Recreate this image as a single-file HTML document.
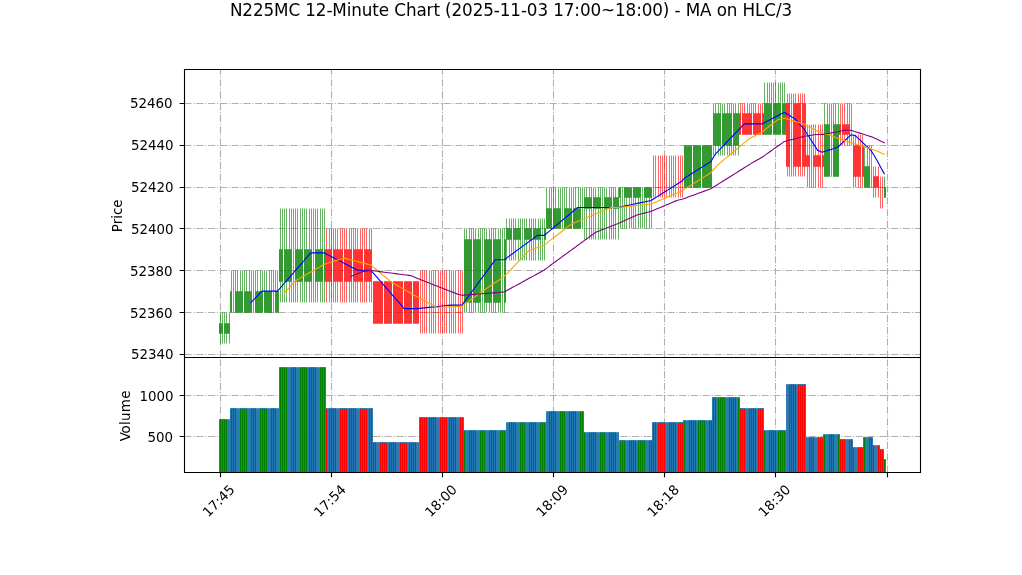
<!DOCTYPE html>
<html lang="en"><head><meta charset="utf-8"><title>N225MC 12-Minute Chart</title>
<style>html,body{margin:0;padding:0;background:#fff;overflow:hidden}body{width:1022px;height:575px}</style></head>
<body>
<svg width="1022" height="575" viewBox="0 0 1022 575" style="display:block;font-family:'DejaVu Sans','Liberation Sans',sans-serif">
<rect width="1022" height="575" fill="#fff"/>
<defs><clipPath id="c1"><rect x="184" y="69" width="736" height="288"/></clipPath><clipPath id="c2"><rect x="184" y="357" width="736" height="115"/></clipPath></defs>
<g clip-path="url(#c1)">
<path d="M220.5 357.5V69.5M331.5 357.5V69.5M442.5 357.5V69.5M553.5 357.5V69.5M664.5 357.5V69.5M775.5 357.5V69.5M887.5 357.5V69.5M184.5 354.5H920.5M184.5 312.5H920.5M184.5 270.5H920.5M184.5 228.5H920.5M184.5 187.5H920.5M184.5 145.5H920.5M184.5 103.5H920.5" fill="none" stroke="#b0b0b0" stroke-width="1.111" stroke-dasharray="7.111 1.778 1.111 1.778"/>
<path d="M220.5 312.5V323.5M220.5 333.5V343.5M222.5 312.5V323.5M222.5 333.5V343.5M224.5 312.5V323.5M224.5 333.5V343.5M226.5 312.5V323.5M226.5 333.5V343.5M229.5 312.5V323.5M229.5 333.5V343.5M231.5 270.5V291.5M233.5 270.5V291.5M235.5 270.5V291.5M237.5 270.5V291.5M240.5 270.5V291.5M242.5 270.5V291.5M244.5 270.5V291.5M246.5 270.5V291.5M249.5 270.5V291.5M251.5 270.5V291.5M253.5 270.5V291.5M255.5 270.5V291.5M257.5 270.5V291.5M260.5 270.5V291.5M262.5 270.5V291.5M264.5 270.5V291.5M266.5 270.5V291.5M269.5 270.5V291.5M271.5 270.5V291.5M273.5 270.5V291.5M275.5 270.5V291.5M277.5 270.5V291.5M280.5 208.5V249.5M280.5 281.5V302.5M282.5 208.5V249.5M282.5 281.5V302.5M284.5 208.5V249.5M284.5 281.5V302.5M286.5 208.5V249.5M286.5 281.5V302.5M289.5 208.5V249.5M289.5 281.5V302.5M291.5 208.5V249.5M291.5 281.5V302.5M293.5 208.5V249.5M293.5 281.5V302.5M295.5 208.5V249.5M295.5 281.5V302.5M297.5 208.5V249.5M297.5 281.5V302.5M300.5 208.5V249.5M300.5 281.5V302.5M302.5 208.5V249.5M302.5 281.5V302.5M304.5 208.5V249.5M304.5 281.5V302.5M306.5 208.5V249.5M306.5 281.5V302.5M309.5 208.5V249.5M309.5 281.5V302.5M311.5 208.5V249.5M311.5 281.5V302.5M313.5 208.5V249.5M313.5 281.5V302.5M315.5 208.5V249.5M315.5 281.5V302.5M317.5 208.5V249.5M317.5 281.5V302.5M320.5 208.5V249.5M320.5 281.5V302.5M322.5 208.5V249.5M322.5 281.5V302.5M324.5 208.5V249.5M324.5 281.5V302.5M464.5 228.5V239.5M464.5 302.5V312.5M466.5 228.5V239.5M466.5 302.5V312.5M469.5 228.5V239.5M469.5 302.5V312.5M471.5 228.5V239.5M471.5 302.5V312.5M473.5 228.5V239.5M473.5 302.5V312.5M475.5 228.5V239.5M475.5 302.5V312.5M478.5 228.5V239.5M478.5 302.5V312.5M480.5 228.5V239.5M480.5 302.5V312.5M482.5 228.5V239.5M482.5 302.5V312.5M484.5 228.5V239.5M484.5 302.5V312.5M486.5 228.5V239.5M486.5 302.5V312.5M489.5 228.5V239.5M489.5 302.5V312.5M491.5 228.5V239.5M491.5 302.5V312.5M493.5 228.5V239.5M493.5 302.5V312.5M495.5 228.5V239.5M495.5 302.5V312.5M498.5 228.5V239.5M498.5 302.5V312.5M500.5 228.5V239.5M500.5 302.5V312.5M502.5 228.5V239.5M502.5 302.5V312.5M504.5 228.5V239.5M504.5 302.5V312.5M506.5 218.5V228.5M506.5 239.5V260.5M509.5 218.5V228.5M509.5 239.5V260.5M511.5 218.5V228.5M511.5 239.5V260.5M513.5 218.5V228.5M513.5 239.5V260.5M515.5 218.5V228.5M515.5 239.5V260.5M518.5 218.5V228.5M518.5 239.5V260.5M520.5 218.5V228.5M520.5 239.5V260.5M522.5 218.5V228.5M522.5 239.5V260.5M524.5 218.5V228.5M524.5 239.5V260.5M526.5 218.5V228.5M526.5 239.5V260.5M529.5 218.5V228.5M529.5 239.5V260.5M531.5 218.5V228.5M531.5 239.5V260.5M533.5 218.5V228.5M533.5 239.5V260.5M535.5 218.5V228.5M535.5 239.5V260.5M538.5 218.5V228.5M538.5 239.5V260.5M540.5 218.5V228.5M540.5 239.5V260.5M542.5 218.5V228.5M542.5 239.5V260.5M544.5 218.5V228.5M544.5 239.5V260.5M546.5 187.5V208.5M549.5 187.5V208.5M551.5 187.5V208.5M553.5 187.5V208.5M555.5 187.5V208.5M558.5 187.5V208.5M560.5 187.5V208.5M562.5 187.5V208.5M564.5 187.5V208.5M566.5 187.5V208.5M569.5 187.5V208.5M571.5 187.5V208.5M573.5 187.5V208.5M575.5 187.5V208.5M578.5 187.5V208.5M580.5 187.5V208.5M582.5 187.5V208.5M584.5 187.5V197.5M584.5 208.5V239.5M586.5 187.5V197.5M586.5 208.5V239.5M589.5 187.5V197.5M589.5 208.5V239.5M591.5 187.5V197.5M591.5 208.5V239.5M593.5 187.5V197.5M593.5 208.5V239.5M595.5 187.5V197.5M595.5 208.5V239.5M598.5 187.5V197.5M598.5 208.5V239.5M600.5 187.5V197.5M600.5 208.5V239.5M602.5 187.5V197.5M602.5 208.5V239.5M604.5 187.5V197.5M604.5 208.5V239.5M606.5 187.5V197.5M606.5 208.5V239.5M609.5 187.5V197.5M609.5 208.5V239.5M611.5 187.5V197.5M611.5 208.5V239.5M613.5 187.5V197.5M613.5 208.5V239.5M615.5 187.5V197.5M615.5 208.5V239.5M618.5 187.5V197.5M618.5 208.5V239.5M620.5 197.5V228.5M622.5 197.5V228.5M624.5 197.5V228.5M626.5 197.5V228.5M629.5 197.5V228.5M631.5 197.5V228.5M633.5 197.5V228.5M635.5 197.5V228.5M638.5 197.5V228.5M640.5 197.5V228.5M642.5 197.5V228.5M644.5 197.5V228.5M646.5 197.5V228.5M649.5 197.5V228.5M651.5 197.5V228.5M713.5 103.5V113.5M713.5 145.5V155.5M715.5 103.5V113.5M715.5 145.5V155.5M718.5 103.5V113.5M718.5 145.5V155.5M720.5 103.5V113.5M720.5 145.5V155.5M722.5 103.5V113.5M722.5 145.5V155.5M724.5 103.5V113.5M724.5 145.5V155.5M727.5 103.5V113.5M727.5 145.5V155.5M729.5 103.5V113.5M729.5 145.5V155.5M731.5 103.5V113.5M731.5 145.5V155.5M733.5 103.5V113.5M733.5 145.5V155.5M735.5 103.5V113.5M735.5 145.5V155.5M738.5 103.5V113.5M738.5 145.5V155.5M764.5 82.5V103.5M767.5 82.5V103.5M769.5 82.5V103.5M771.5 82.5V103.5M773.5 82.5V103.5M775.5 82.5V103.5M778.5 82.5V103.5M780.5 82.5V103.5M782.5 82.5V103.5M784.5 82.5V103.5M824.5 103.5V124.5M827.5 103.5V124.5M829.5 103.5V124.5M831.5 103.5V124.5M833.5 103.5V124.5M835.5 103.5V124.5M838.5 103.5V124.5M864.5 145.5V166.5M867.5 145.5V166.5M869.5 145.5V166.5M871.5 145.5V166.5M884.5 176.5V187.5" fill="none" stroke="#008000" stroke-width="0.604"/>
<path d="M326.5 228.5V249.5M326.5 281.5V302.5M329.5 228.5V249.5M329.5 281.5V302.5M331.5 228.5V249.5M331.5 281.5V302.5M333.5 228.5V249.5M333.5 281.5V302.5M335.5 228.5V249.5M335.5 281.5V302.5M337.5 228.5V249.5M337.5 281.5V302.5M340.5 228.5V249.5M340.5 281.5V302.5M342.5 228.5V249.5M342.5 281.5V302.5M344.5 228.5V249.5M344.5 281.5V302.5M346.5 228.5V249.5M346.5 281.5V302.5M349.5 228.5V249.5M349.5 281.5V302.5M351.5 228.5V249.5M351.5 281.5V302.5M353.5 228.5V249.5M353.5 281.5V302.5M355.5 228.5V249.5M355.5 281.5V302.5M357.5 228.5V249.5M357.5 281.5V302.5M360.5 228.5V249.5M360.5 281.5V302.5M362.5 228.5V249.5M362.5 281.5V302.5M364.5 228.5V249.5M364.5 281.5V302.5M366.5 228.5V249.5M366.5 281.5V302.5M369.5 228.5V249.5M369.5 281.5V302.5M371.5 228.5V249.5M371.5 281.5V302.5M420.5 270.5V312.5M420.5 312.5V333.5M422.5 270.5V312.5M422.5 312.5V333.5M424.5 270.5V312.5M424.5 312.5V333.5M426.5 270.5V312.5M426.5 312.5V333.5M429.5 270.5V312.5M429.5 312.5V333.5M431.5 270.5V312.5M431.5 312.5V333.5M433.5 270.5V312.5M433.5 312.5V333.5M435.5 270.5V312.5M435.5 312.5V333.5M438.5 270.5V312.5M438.5 312.5V333.5M440.5 270.5V312.5M440.5 312.5V333.5M442.5 270.5V312.5M442.5 312.5V333.5M444.5 270.5V312.5M444.5 312.5V333.5M446.5 270.5V312.5M446.5 312.5V333.5M449.5 270.5V312.5M449.5 312.5V333.5M451.5 270.5V312.5M451.5 312.5V333.5M453.5 270.5V312.5M453.5 312.5V333.5M455.5 270.5V312.5M455.5 312.5V333.5M458.5 270.5V312.5M458.5 312.5V333.5M460.5 270.5V312.5M460.5 312.5V333.5M462.5 270.5V312.5M462.5 312.5V333.5M653.5 155.5V187.5M653.5 187.5V197.5M655.5 155.5V187.5M655.5 187.5V197.5M658.5 155.5V187.5M658.5 187.5V197.5M660.5 155.5V187.5M660.5 187.5V197.5M662.5 155.5V187.5M662.5 187.5V197.5M664.5 155.5V187.5M664.5 187.5V197.5M666.5 155.5V187.5M666.5 187.5V197.5M669.5 155.5V187.5M669.5 187.5V197.5M671.5 155.5V187.5M671.5 187.5V197.5M673.5 155.5V187.5M673.5 187.5V197.5M675.5 155.5V187.5M675.5 187.5V197.5M678.5 155.5V187.5M678.5 187.5V197.5M680.5 155.5V187.5M680.5 187.5V197.5M682.5 155.5V187.5M682.5 187.5V197.5M740.5 103.5V113.5M742.5 103.5V113.5M744.5 103.5V113.5M747.5 103.5V113.5M749.5 103.5V113.5M751.5 103.5V113.5M753.5 103.5V113.5M755.5 103.5V113.5M758.5 103.5V113.5M760.5 103.5V113.5M762.5 103.5V113.5M787.5 93.5V103.5M787.5 166.5V176.5M789.5 93.5V103.5M789.5 166.5V176.5M791.5 93.5V103.5M791.5 166.5V176.5M793.5 93.5V103.5M793.5 166.5V176.5M795.5 93.5V103.5M795.5 166.5V176.5M798.5 93.5V103.5M798.5 166.5V176.5M800.5 93.5V103.5M800.5 166.5V176.5M802.5 93.5V103.5M802.5 166.5V176.5M804.5 93.5V103.5M804.5 166.5V176.5M807.5 124.5V155.5M807.5 166.5V187.5M809.5 124.5V155.5M809.5 166.5V187.5M811.5 124.5V155.5M811.5 166.5V187.5M813.5 124.5V155.5M813.5 166.5V187.5M815.5 124.5V155.5M815.5 166.5V187.5M818.5 124.5V155.5M818.5 166.5V187.5M820.5 124.5V155.5M820.5 166.5V187.5M822.5 124.5V155.5M822.5 166.5V187.5M840.5 103.5V124.5M840.5 134.5V145.5M842.5 103.5V124.5M842.5 134.5V145.5M844.5 103.5V124.5M844.5 134.5V145.5M847.5 103.5V124.5M847.5 134.5V145.5M849.5 103.5V124.5M849.5 134.5V145.5M851.5 103.5V124.5M851.5 134.5V145.5M853.5 134.5V145.5M853.5 176.5V187.5M855.5 134.5V145.5M855.5 176.5V187.5M858.5 134.5V145.5M858.5 176.5V187.5M860.5 134.5V145.5M860.5 176.5V187.5M862.5 134.5V145.5M862.5 176.5V187.5M873.5 166.5V176.5M873.5 187.5V197.5M875.5 166.5V176.5M875.5 187.5V197.5M878.5 166.5V176.5M878.5 187.5V197.5M880.5 176.5V187.5M880.5 187.5V208.5M882.5 176.5V187.5M882.5 187.5V208.5" fill="none" stroke="#ff0000" stroke-width="0.604"/>
<path d="M219.5 323.5H220.5V333.5H219.5ZM221.5 323.5H222.5V333.5H221.5ZM224.5 323.5H225.5V333.5H224.5ZM226.5 323.5H227.5V333.5H226.5ZM228.5 323.5H229.5V333.5H228.5ZM230.5 291.5H231.5V312.5H230.5ZM235.5 291.5H236.5V312.5H235.5ZM237.5 291.5H238.5V312.5H237.5ZM239.5 291.5H240.5V312.5H239.5ZM241.5 291.5H242.5V312.5H241.5ZM244.5 291.5H245.5V312.5H244.5ZM246.5 291.5H247.5V312.5H246.5ZM248.5 291.5H249.5V312.5H248.5ZM250.5 291.5H251.5V312.5H250.5ZM255.5 291.5H256.5V312.5H255.5ZM257.5 291.5H258.5V312.5H257.5ZM259.5 291.5H260.5V312.5H259.5ZM261.5 291.5H262.5V312.5H261.5ZM264.5 291.5H265.5V312.5H264.5ZM266.5 291.5H267.5V312.5H266.5ZM268.5 291.5H269.5V312.5H268.5ZM270.5 291.5H271.5V312.5H270.5ZM275.5 291.5H276.5V312.5H275.5ZM277.5 291.5H278.5V312.5H277.5ZM279.5 249.5H280.5V281.5H279.5ZM281.5 249.5H282.5V281.5H281.5ZM284.5 249.5H285.5V281.5H284.5ZM286.5 249.5H287.5V281.5H286.5ZM288.5 249.5H289.5V281.5H288.5ZM290.5 249.5H291.5V281.5H290.5ZM295.5 249.5H296.5V281.5H295.5ZM297.5 249.5H298.5V281.5H297.5ZM299.5 249.5H300.5V281.5H299.5ZM301.5 249.5H302.5V281.5H301.5ZM304.5 249.5H305.5V281.5H304.5ZM306.5 249.5H307.5V281.5H306.5ZM308.5 249.5H309.5V281.5H308.5ZM310.5 249.5H311.5V281.5H310.5ZM315.5 249.5H316.5V281.5H315.5ZM317.5 249.5H318.5V281.5H317.5ZM319.5 249.5H320.5V281.5H319.5ZM321.5 249.5H322.5V281.5H321.5ZM324.5 249.5H325.5V281.5H324.5ZM464.5 239.5H465.5V302.5H464.5ZM466.5 239.5H467.5V302.5H466.5ZM468.5 239.5H469.5V302.5H468.5ZM470.5 239.5H471.5V302.5H470.5ZM473.5 239.5H474.5V302.5H473.5ZM475.5 239.5H476.5V302.5H475.5ZM477.5 239.5H478.5V302.5H477.5ZM479.5 239.5H480.5V302.5H479.5ZM484.5 239.5H485.5V302.5H484.5ZM486.5 239.5H487.5V302.5H486.5ZM488.5 239.5H489.5V302.5H488.5ZM490.5 239.5H491.5V302.5H490.5ZM493.5 239.5H494.5V302.5H493.5ZM495.5 239.5H496.5V302.5H495.5ZM497.5 239.5H498.5V302.5H497.5ZM499.5 239.5H500.5V302.5H499.5ZM504.5 239.5H505.5V302.5H504.5ZM506.5 228.5H507.5V239.5H506.5ZM508.5 228.5H509.5V239.5H508.5ZM510.5 228.5H511.5V239.5H510.5ZM513.5 228.5H514.5V239.5H513.5ZM515.5 228.5H516.5V239.5H515.5ZM517.5 228.5H518.5V239.5H517.5ZM519.5 228.5H520.5V239.5H519.5ZM524.5 228.5H525.5V239.5H524.5ZM526.5 228.5H527.5V239.5H526.5ZM528.5 228.5H529.5V239.5H528.5ZM530.5 228.5H531.5V239.5H530.5ZM533.5 228.5H534.5V239.5H533.5ZM535.5 228.5H536.5V239.5H535.5ZM537.5 228.5H538.5V239.5H537.5ZM539.5 228.5H540.5V239.5H539.5ZM544.5 228.5H545.5V239.5H544.5ZM546.5 208.5H547.5V228.5H546.5ZM548.5 208.5H549.5V228.5H548.5ZM550.5 208.5H551.5V228.5H550.5ZM553.5 208.5H554.5V228.5H553.5ZM555.5 208.5H556.5V228.5H555.5ZM557.5 208.5H558.5V228.5H557.5ZM559.5 208.5H560.5V228.5H559.5ZM564.5 208.5H565.5V228.5H564.5ZM566.5 208.5H567.5V228.5H566.5ZM568.5 208.5H569.5V228.5H568.5ZM570.5 208.5H571.5V228.5H570.5ZM573.5 208.5H574.5V228.5H573.5ZM575.5 208.5H576.5V228.5H575.5ZM577.5 208.5H578.5V228.5H577.5ZM579.5 208.5H580.5V228.5H579.5ZM584.5 197.5H585.5V208.5H584.5ZM586.5 197.5H587.5V208.5H586.5ZM588.5 197.5H589.5V208.5H588.5ZM590.5 197.5H591.5V208.5H590.5ZM593.5 197.5H594.5V208.5H593.5ZM595.5 197.5H596.5V208.5H595.5ZM597.5 197.5H598.5V208.5H597.5ZM599.5 197.5H600.5V208.5H599.5ZM604.5 197.5H605.5V208.5H604.5ZM606.5 197.5H607.5V208.5H606.5ZM608.5 197.5H609.5V208.5H608.5ZM610.5 197.5H611.5V208.5H610.5ZM613.5 197.5H614.5V208.5H613.5ZM615.5 197.5H616.5V208.5H615.5ZM617.5 197.5H618.5V208.5H617.5ZM619.5 187.5H620.5V197.5H619.5ZM624.5 187.5H625.5V197.5H624.5ZM626.5 187.5H627.5V197.5H626.5ZM628.5 187.5H629.5V197.5H628.5ZM630.5 187.5H631.5V197.5H630.5ZM633.5 187.5H634.5V197.5H633.5ZM635.5 187.5H636.5V197.5H635.5ZM637.5 187.5H638.5V197.5H637.5ZM639.5 187.5H640.5V197.5H639.5ZM644.5 187.5H645.5V197.5H644.5ZM646.5 187.5H647.5V197.5H646.5ZM648.5 187.5H649.5V197.5H648.5ZM650.5 187.5H651.5V197.5H650.5ZM684.5 145.5H685.5V187.5H684.5ZM686.5 145.5H687.5V187.5H686.5ZM688.5 145.5H689.5V187.5H688.5ZM690.5 145.5H691.5V187.5H690.5ZM693.5 145.5H694.5V187.5H693.5ZM695.5 145.5H696.5V187.5H695.5ZM697.5 145.5H698.5V187.5H697.5ZM699.5 145.5H700.5V187.5H699.5ZM702.5 145.5H703.5V187.5H702.5ZM704.5 145.5H705.5V187.5H704.5ZM706.5 145.5H707.5V187.5H706.5ZM708.5 145.5H709.5V187.5H708.5ZM710.5 145.5H711.5V187.5H710.5ZM713.5 113.5H714.5V145.5H713.5ZM715.5 113.5H716.5V145.5H715.5ZM717.5 113.5H718.5V145.5H717.5ZM719.5 113.5H720.5V145.5H719.5ZM722.5 113.5H723.5V145.5H722.5ZM724.5 113.5H725.5V145.5H724.5ZM726.5 113.5H727.5V145.5H726.5ZM728.5 113.5H729.5V145.5H728.5ZM730.5 113.5H731.5V145.5H730.5ZM733.5 113.5H734.5V145.5H733.5ZM735.5 113.5H736.5V145.5H735.5ZM737.5 113.5H738.5V145.5H737.5ZM764.5 103.5H765.5V134.5H764.5ZM766.5 103.5H767.5V134.5H766.5ZM768.5 103.5H769.5V134.5H768.5ZM770.5 103.5H771.5V134.5H770.5ZM773.5 103.5H774.5V134.5H773.5ZM775.5 103.5H776.5V134.5H775.5ZM777.5 103.5H778.5V134.5H777.5ZM779.5 103.5H780.5V134.5H779.5ZM782.5 103.5H783.5V134.5H782.5ZM784.5 103.5H785.5V134.5H784.5ZM824.5 124.5H825.5V176.5H824.5ZM826.5 124.5H827.5V176.5H826.5ZM828.5 124.5H829.5V176.5H828.5ZM833.5 124.5H834.5V176.5H833.5ZM835.5 124.5H836.5V176.5H835.5ZM837.5 124.5H838.5V176.5H837.5ZM864.5 166.5H865.5V187.5H864.5ZM866.5 166.5H867.5V187.5H866.5ZM868.5 166.5H869.5V187.5H868.5ZM884.5 187.5H885.5V197.5H884.5Z" fill="#008000" stroke="#008000" stroke-width="0.604" stroke-linejoin="miter"/>
<path d="M326.5 249.5H327.5V281.5H326.5ZM328.5 249.5H329.5V281.5H328.5ZM330.5 249.5H331.5V281.5H330.5ZM333.5 249.5H334.5V281.5H333.5ZM335.5 249.5H336.5V281.5H335.5ZM337.5 249.5H338.5V281.5H337.5ZM339.5 249.5H340.5V281.5H339.5ZM341.5 249.5H342.5V281.5H341.5ZM344.5 249.5H345.5V281.5H344.5ZM346.5 249.5H347.5V281.5H346.5ZM348.5 249.5H349.5V281.5H348.5ZM350.5 249.5H351.5V281.5H350.5ZM353.5 249.5H354.5V281.5H353.5ZM355.5 249.5H356.5V281.5H355.5ZM357.5 249.5H358.5V281.5H357.5ZM359.5 249.5H360.5V281.5H359.5ZM361.5 249.5H362.5V281.5H361.5ZM364.5 249.5H365.5V281.5H364.5ZM366.5 249.5H367.5V281.5H366.5ZM368.5 249.5H369.5V281.5H368.5ZM370.5 249.5H371.5V281.5H370.5ZM373.5 281.5H374.5V323.5H373.5ZM375.5 281.5H376.5V323.5H375.5ZM377.5 281.5H378.5V323.5H377.5ZM379.5 281.5H380.5V323.5H379.5ZM381.5 281.5H382.5V323.5H381.5ZM384.5 281.5H385.5V323.5H384.5ZM386.5 281.5H387.5V323.5H386.5ZM388.5 281.5H389.5V323.5H388.5ZM390.5 281.5H391.5V323.5H390.5ZM393.5 281.5H394.5V323.5H393.5ZM395.5 281.5H396.5V323.5H395.5ZM397.5 281.5H398.5V323.5H397.5ZM399.5 281.5H400.5V323.5H399.5ZM401.5 281.5H402.5V323.5H401.5ZM404.5 281.5H405.5V323.5H404.5ZM406.5 281.5H407.5V323.5H406.5ZM408.5 281.5H409.5V323.5H408.5ZM410.5 281.5H411.5V323.5H410.5ZM413.5 281.5H414.5V323.5H413.5ZM415.5 281.5H416.5V323.5H415.5ZM417.5 281.5H418.5V323.5H417.5ZM739.5 113.5H740.5V134.5H739.5ZM742.5 113.5H743.5V134.5H742.5ZM744.5 113.5H745.5V134.5H744.5ZM746.5 113.5H747.5V134.5H746.5ZM748.5 113.5H749.5V134.5H748.5ZM750.5 113.5H751.5V134.5H750.5ZM753.5 113.5H754.5V134.5H753.5ZM755.5 113.5H756.5V134.5H755.5ZM757.5 113.5H758.5V134.5H757.5ZM759.5 113.5H760.5V134.5H759.5ZM762.5 113.5H763.5V134.5H762.5ZM786.5 103.5H787.5V166.5H786.5ZM788.5 103.5H789.5V166.5H788.5ZM793.5 103.5H794.5V166.5H793.5ZM795.5 103.5H796.5V166.5H795.5ZM797.5 103.5H798.5V166.5H797.5ZM799.5 103.5H800.5V166.5H799.5ZM802.5 103.5H803.5V166.5H802.5ZM804.5 103.5H805.5V166.5H804.5ZM806.5 155.5H807.5V166.5H806.5ZM808.5 155.5H809.5V166.5H808.5ZM813.5 155.5H814.5V166.5H813.5ZM815.5 155.5H816.5V166.5H815.5ZM817.5 155.5H818.5V166.5H817.5ZM819.5 155.5H820.5V166.5H819.5ZM822.5 155.5H823.5V166.5H822.5ZM839.5 124.5H840.5V134.5H839.5ZM842.5 124.5H843.5V134.5H842.5ZM844.5 124.5H845.5V134.5H844.5ZM846.5 124.5H847.5V134.5H846.5ZM848.5 124.5H849.5V134.5H848.5ZM853.5 145.5H854.5V176.5H853.5ZM855.5 145.5H856.5V176.5H855.5ZM857.5 145.5H858.5V176.5H857.5ZM859.5 145.5H860.5V176.5H859.5ZM862.5 145.5H863.5V176.5H862.5ZM873.5 176.5H874.5V187.5H873.5ZM875.5 176.5H876.5V187.5H875.5ZM877.5 176.5H878.5V187.5H877.5Z" fill="#ff0000" stroke="#ff0000" stroke-width="0.604" stroke-linejoin="miter"/>
<path d="M233.198 291.198H233.802V312.802H233.198ZM253.198 291.198H253.802V312.802H253.198ZM273.198 291.198H273.802V312.802H273.198ZM293.198 249.198H293.802V281.802H293.198ZM313.198 249.198H313.802V281.802H313.198ZM482.198 239.198H482.802V302.802H482.198ZM502.198 239.198H502.802V302.802H502.198ZM522.198 228.198H522.802V239.802H522.198ZM542.198 228.198H542.802V239.802H542.198ZM562.198 208.198H562.802V228.802H562.198ZM582.198 208.198H582.802V228.802H582.198ZM602.198 197.198H602.802V208.802H602.198ZM622.198 187.198H622.802V197.802H622.198ZM642.198 187.198H642.802V197.802H642.198ZM831.198 124.198H831.802V176.802H831.198ZM871.198 166.198H871.802V187.802H871.198Z" fill="#008000" stroke="none"/>
<path d="M419.198 312.198H420.802V312.802H419.198ZM421.198 312.198H422.802V312.802H421.198ZM424.198 312.198H425.802V312.802H424.198ZM426.198 312.198H427.802V312.802H426.198ZM428.198 312.198H429.802V312.802H428.198ZM430.198 312.198H431.802V312.802H430.198ZM433.198 312.198H434.802V312.802H433.198ZM435.198 312.198H436.802V312.802H435.198ZM437.198 312.198H438.802V312.802H437.198ZM439.198 312.198H440.802V312.802H439.198ZM442.198 312.198H442.802V312.802H442.198ZM444.198 312.198H445.802V312.802H444.198ZM446.198 312.198H447.802V312.802H446.198ZM448.198 312.198H449.802V312.802H448.198ZM450.198 312.198H451.802V312.802H450.198ZM453.198 312.198H454.802V312.802H453.198ZM455.198 312.198H456.802V312.802H455.198ZM457.198 312.198H458.802V312.802H457.198ZM459.198 312.198H460.802V312.802H459.198ZM462.198 312.198H462.802V312.802H462.198ZM653.198 187.198H654.802V187.802H653.198ZM655.198 187.198H656.802V187.802H655.198ZM657.198 187.198H658.802V187.802H657.198ZM659.198 187.198H660.802V187.802H659.198ZM662.198 187.198H662.802V187.802H662.198ZM664.198 187.198H665.802V187.802H664.198ZM666.198 187.198H667.802V187.802H666.198ZM668.198 187.198H669.802V187.802H668.198ZM670.198 187.198H671.802V187.802H670.198ZM673.198 187.198H674.802V187.802H673.198ZM675.198 187.198H676.802V187.802H675.198ZM677.198 187.198H678.802V187.802H677.198ZM679.198 187.198H680.802V187.802H679.198ZM682.198 187.198H683.802V187.802H682.198ZM791.198 103.198H791.802V166.802H791.198ZM811.198 155.198H811.802V166.802H811.198ZM851.198 124.198H851.802V134.802H851.198ZM879.198 187.198H880.802V187.802H879.198ZM882.198 187.198H883.802V187.802H882.198Z" fill="#ff0000" stroke="none"/>
<path d="M250.79 302.78L253.01 300.45L255.24 298.13L257.46 295.81L259.68 293.48L261.91 291.16L264.13 291.16L266.35 291.16L268.58 291.16L270.8 291.16L273.02 291.16L275.24 291.16L277.47 291.16L279.69 288.6L281.91 286.05L284.14 283.49L286.36 280.94L288.58 278.38L290.8 275.83L293.03 273.27L295.25 270.71L297.47 268.16L299.7 265.6L301.92 263.05L304.14 260.49L306.37 257.94L308.59 255.38L310.81 252.83L313.03 252.83L315.26 252.83L317.48 252.83L319.7 252.83L321.93 252.83L324.15 252.83L326.37 253.99L328.59 255.15L330.82 256.31L333.04 257.47L335.26 258.63L337.49 259.8L339.71 260.96L341.93 262.12L344.16 263.28L346.38 264.44L348.6 265.6L350.82 266.77L353.05 267.93L355.27 269.09L357.49 270.25L359.72 270.25L361.94 270.25L364.16 270.25L366.38 270.25L368.61 270.25L370.83 270.25L373.05 272.81L375.28 275.36L377.5 277.92L379.72 280.47L381.95 283.03L384.17 285.58L386.39 288.14L388.61 290.69L390.84 293.25L393.06 295.81L395.28 298.36L397.51 300.92L399.73 303.47L401.95 306.03L404.17 308.58L406.4 308.58L408.62 308.58L410.84 308.58L413.07 308.58L415.29 308.58L417.51 308.58L419.74 308.35L421.96 308.12L424.18 307.89L426.4 307.65L428.63 307.42L430.85 307.19L433.07 306.96L435.3 306.72L437.52 306.49L439.74 306.26L441.96 306.03L444.19 305.8L446.41 305.56L448.63 305.33L450.86 305.1L453.08 305.1L455.3 305.1L457.53 305.1L459.75 305.1L461.97 305.1L464.19 302.08L466.42 299.06L468.64 296.04L470.86 293.02L473.09 290L475.31 286.98L477.53 283.96L479.75 280.94L481.98 277.92L484.2 274.9L486.42 271.88L488.65 268.86L490.87 265.84L493.09 262.82L495.32 259.8L497.54 259.8L499.76 259.8L501.98 259.8L504.21 259.8L506.43 258.17L508.65 256.54L510.88 254.92L513.1 253.29L515.32 251.66L517.54 250.04L519.77 248.41L521.99 246.79L524.21 245.16L526.44 243.53L528.66 241.91L530.88 240.28L533.11 238.65L535.33 237.03L537.55 235.4L539.77 235.4L542 235.4L544.22 235.4L546.44 233.54L548.67 231.68L550.89 229.83L553.11 227.97L555.33 226.11L557.56 224.25L559.78 222.39L562 220.53L564.23 218.67L566.45 216.82L568.67 214.96L570.9 213.1L573.12 211.24L575.34 209.38L577.56 207.52L579.79 207.52L582.01 207.52L584.23 207.52L586.46 207.52L588.68 207.52L590.9 207.52L593.12 207.52L595.35 207.52L597.57 207.52L599.79 207.52L602.02 207.52L604.24 207.52L606.46 207.52L608.69 207.52L610.91 207.52L613.13 207.52L615.35 207.52L617.58 207.52L619.8 207.06L622.02 206.59L624.25 206.13L626.47 205.66L628.69 205.2L630.91 204.73L633.14 204.27L635.36 203.81L637.58 203.34L639.81 202.88L642.03 202.41L644.25 201.95L646.48 201.48L648.7 201.02L650.92 200.55L653.14 199.16L655.37 197.77L657.59 196.37L659.81 194.98L662.04 193.58L664.26 192.19L666.48 190.8L668.7 189.4L670.93 188.01L673.15 186.61L675.37 185.22L677.6 183.83L679.82 182.43L682.04 181.04L684.27 178.25L686.49 176.86L688.71 175.46L690.93 174.07L693.16 172.67L695.38 171.28L697.6 169.89L699.83 168.49L702.05 167.1L704.27 165.7L706.49 164.31L708.72 162.92L710.94 161.52L713.16 157.81L715.39 154.09L717.61 151.77L719.83 149.44L722.06 147.12L724.28 144.8L726.5 142.47L728.72 140.15L730.95 137.83L733.17 135.5L735.39 133.18L737.62 130.86L739.84 128.53L742.06 126.21L744.29 123.89L746.51 123.89L748.73 123.89L750.95 123.89L753.18 123.89L755.4 123.89L757.62 123.89L759.85 123.89L762.07 123.89L764.29 122.72L766.51 121.56L768.74 120.4L770.96 119.24L773.18 118.08L775.41 116.92L777.63 115.76L779.85 114.59L782.08 113.43L784.3 112.27L786.52 113.66L788.74 115.06L790.97 116.45L793.19 117.85L795.41 119.24L797.64 121.8L799.86 124.35L802.08 126.91L804.3 129.46L806.53 132.95L808.75 136.43L810.97 139.92L813.2 143.4L815.42 146.89L817.64 150.37L819.87 151.3L822.09 152.23L824.31 151.53L826.53 150.84L828.76 150.14L830.98 149.44L833.2 148.74L835.43 148.05L837.65 147.35L839.87 145.26L842.09 143.17L844.32 141.08L846.54 138.99L848.76 136.9L850.99 134.81L853.21 135.27L855.43 135.73L857.66 137.83L859.88 139.92L862.1 142.01L864.32 144.1L866.55 146.19L868.77 148.28L870.99 150.37L873.22 154.09L875.44 157.81L877.66 161.52L879.88 165.7L882.11 169.89L884.33 173.84" fill="none" stroke="#0000ff" stroke-width="1.099" stroke-linejoin="round" stroke-linecap="square"/>
<path d="M284.14 293.13L286.36 290.69L288.58 288.26L290.8 285.82L293.03 283.38L295.25 280.94L297.47 279.66L299.7 278.38L301.92 277.1L304.14 275.83L306.37 274.55L308.59 273.27L310.81 271.99L313.03 270.71L315.26 269.44L317.48 268.16L319.7 266.88L321.93 265.6L324.15 264.33L326.37 263.63L328.59 262.93L330.82 262.23L333.04 261.54L335.26 260.84L337.49 260.14L339.71 259.45L341.93 258.75L344.16 258.05L346.38 258.63L348.6 259.21L350.82 259.8L353.05 260.38L355.27 260.96L357.49 261.54L359.72 262.12L361.94 262.7L364.16 263.28L366.38 263.86L368.61 264.44L370.83 265.02L373.05 266.88L375.28 268.74L377.5 270.6L379.72 272.46L381.95 274.32L384.17 276.17L386.39 278.03L388.61 279.89L390.84 281.75L393.06 283.03L395.28 284.31L397.51 285.58L399.73 286.86L401.95 288.14L404.17 289.42L406.4 290.69L408.62 291.97L410.84 293.25L413.07 294.53L415.29 295.81L417.51 297.08L419.74 298.24L421.96 299.41L424.18 300.57L426.4 301.73L428.63 302.89L430.85 304.05L433.07 305.21L435.3 306.38L437.52 307.54L439.74 307.42L441.96 307.31L444.19 307.19L446.41 307.07L448.63 306.96L450.86 306.84L453.08 306.72L455.3 306.61L457.53 306.49L459.75 306.38L461.97 306.26L464.19 304.63L466.42 303.01L468.64 301.38L470.86 299.76L473.09 298.13L475.31 296.5L477.53 294.88L479.75 293.25L481.98 291.62L484.2 290L486.42 288.49L488.65 286.98L490.87 285.47L493.09 283.96L495.32 282.45L497.54 280.94L499.76 279.43L501.98 277.92L504.21 276.41L506.43 274.08L508.65 271.76L510.88 269.44L513.1 267.11L515.32 264.79L517.54 262.47L519.77 260.14L521.99 257.82L524.21 255.5L526.44 253.17L528.66 250.85L530.88 250.04L533.11 249.22L535.33 248.41L537.55 247.6L539.77 246.79L542 245.97L544.22 245.16L546.44 243.42L548.67 241.67L550.89 239.93L553.11 238.19L555.33 236.45L557.56 234.7L559.78 232.96L562 231.22L564.23 229.48L566.45 227.73L568.67 225.99L570.9 224.25L573.12 223.32L575.34 222.39L577.56 221.46L579.79 220.53L582.01 219.6L584.23 218.67L586.46 217.74L588.68 216.82L590.9 215.89L593.12 214.96L595.35 214.03L597.57 213.1L599.79 212.17L602.02 211.24L604.24 210.31L606.46 209.38L608.69 208.45L610.91 207.52L613.13 207.52L615.35 207.52L617.58 207.52L619.8 207.29L622.02 207.06L624.25 206.83L626.47 206.59L628.69 206.36L630.91 206.13L633.14 205.9L635.36 205.66L637.58 205.43L639.81 205.2L642.03 204.97L644.25 204.73L646.48 204.5L648.7 204.27L650.92 204.04L653.14 203.11L655.37 202.18L657.59 201.25L659.81 200.32L662.04 199.39L664.26 198.46L666.48 197.53L668.7 196.6L670.93 195.67L673.15 194.74L675.37 193.82L677.6 192.89L679.82 191.96L682.04 191.03L684.27 189.4L686.49 188.01L688.71 186.61L690.93 185.22L693.16 183.83L695.38 182.43L697.6 181.04L699.83 179.64L702.05 178.25L704.27 176.86L706.49 175.46L708.72 174.07L710.94 172.67L713.16 170.12L715.39 167.56L717.61 165.01L719.83 163.15L722.06 161.29L724.28 159.43L726.5 157.57L728.72 155.71L730.95 153.86L733.17 152L735.39 150.14L737.62 148.28L739.84 146.42L742.06 144.56L744.29 142.7L746.51 140.85L748.73 138.99L750.95 137.83L753.18 136.66L755.4 135.5L757.62 134.34L759.85 133.18L762.07 132.02L764.29 130.28L766.51 128.53L768.74 126.79L770.96 125.05L773.18 123.31L775.41 121.56L777.63 119.82L779.85 119.24L782.08 118.66L784.3 118.08L786.52 118.78L788.74 119.47L790.97 120.17L793.19 120.87L795.41 121.56L797.64 122.26L799.86 122.96L802.08 123.65L804.3 124.35L806.53 125.51L808.75 126.67L810.97 127.84L813.2 129L815.42 130.16L817.64 131.32L819.87 132.48L822.09 133.64L824.31 133.99L826.53 134.34L828.76 134.69L830.98 135.62L833.2 136.55L835.43 137.48L837.65 138.41L839.87 139.1L842.09 139.8L844.32 140.5L846.54 141.19L848.76 141.89L850.99 142.59L853.21 143.29L855.43 143.98L857.66 144.68L859.88 145.38L862.1 146.07L864.32 146.77L866.55 147.47L868.77 148.16L870.99 148.86L873.22 149.67L875.44 150.49L877.66 151.3L879.88 152.35L882.11 153.39L884.33 154.32" fill="none" stroke="#ffa500" stroke-width="1.099" stroke-linejoin="round" stroke-linecap="square"/>
<path d="M350.82 276.46L353.05 275.54L355.27 274.61L357.49 273.68L359.72 272.75L361.94 271.82L364.16 271.47L366.38 271.12L368.61 270.77L370.83 270.42L373.05 270.71L375.28 271.01L377.5 271.3L379.72 271.59L381.95 271.88L384.17 272.17L386.39 272.46L388.61 272.75L390.84 273.04L393.06 273.33L395.28 273.62L397.51 273.91L399.73 274.2L401.95 274.49L404.17 274.78L406.4 275.07L408.62 275.36L410.84 275.65L413.07 276.58L415.29 277.51L417.51 278.44L419.74 279.31L421.96 280.18L424.18 281.05L426.4 281.92L428.63 282.8L430.85 283.67L433.07 284.54L435.3 285.41L437.52 286.28L439.74 287.15L441.96 288.02L444.19 288.89L446.41 289.77L448.63 290.64L450.86 291.51L453.08 292.38L455.3 293.25L457.53 294.12L459.75 294.7L461.97 295.28L464.19 295.11L466.42 294.93L468.64 294.76L470.86 294.59L473.09 294.41L475.31 294.24L477.53 294.06L479.75 293.89L481.98 293.71L484.2 293.54L486.42 293.37L488.65 293.19L490.87 293.02L493.09 292.84L495.32 292.67L497.54 292.49L499.76 292.32L501.98 292.15L504.21 291.97L506.43 290.75L508.65 289.53L510.88 288.31L513.1 287.09L515.32 285.87L517.54 284.65L519.77 283.43L521.99 282.21L524.21 280.99L526.44 279.78L528.66 278.56L530.88 277.34L533.11 276.12L535.33 274.9L537.55 273.68L539.77 272.46L542 271.24L544.22 270.02L546.44 268.33L548.67 266.65L550.89 264.96L553.11 263.34L555.33 261.71L557.56 260.09L559.78 258.46L562 256.83L564.23 255.21L566.45 253.58L568.67 251.95L570.9 250.33L573.12 248.7L575.34 247.08L577.56 245.45L579.79 243.82L582.01 242.2L584.23 240.57L586.46 238.94L588.68 237.32L590.9 235.69L593.12 234.07L595.35 232.44L597.57 231.57L599.79 230.7L602.02 229.83L604.24 228.95L606.46 228.08L608.69 227.21L610.91 226.34L613.13 225.47L615.35 224.6L617.58 223.73L619.8 222.74L622.02 221.75L624.25 220.77L626.47 219.78L628.69 218.79L630.91 217.8L633.14 216.82L635.36 215.83L637.58 214.84L639.81 214.26L642.03 213.68L644.25 213.1L646.48 212.52L648.7 211.94L650.92 211.36L653.14 210.43L655.37 209.5L657.59 208.57L659.81 207.64L662.04 206.71L664.26 205.78L666.48 204.85L668.7 203.92L670.93 202.99L673.15 202.06L675.37 201.13L677.6 200.2L679.82 199.74L682.04 199.28L684.27 198.46L686.49 197.65L688.71 196.84L690.93 196.02L693.16 195.21L695.38 194.4L697.6 193.58L699.83 192.77L702.05 191.96L704.27 191.14L706.49 190.33L708.72 189.52L710.94 188.7L713.16 187.31L715.39 185.92L717.61 184.52L719.83 183.13L722.06 181.73L724.28 180.34L726.5 178.95L728.72 177.55L730.95 176.16L733.17 174.77L735.39 173.37L737.62 171.98L739.84 170.58L742.06 169.19L744.29 167.8L746.51 166.4L748.73 165.01L750.95 163.61L753.18 162.34L755.4 161.06L757.62 159.78L759.85 158.5L762.07 157.22L764.29 155.66L766.51 154.09L768.74 152.52L770.96 150.95L773.18 149.38L775.41 147.82L777.63 146.25L779.85 144.68L782.08 143.11L784.3 141.54L786.52 140.96L788.74 140.38L790.97 139.8L793.19 139.22L795.41 138.64L797.64 138.06L799.86 137.48L802.08 136.9L804.3 136.32L806.53 135.97L808.75 135.62L810.97 135.27L813.2 134.92L815.42 134.57L817.64 134.57L819.87 134.57L822.09 134.57L824.31 134.17L826.53 133.76L828.76 133.35L830.98 132.95L833.2 132.54L835.43 132.13L837.65 131.73L839.87 131.2L842.09 130.68L844.32 130.16L846.54 130.22L848.76 130.28L850.99 130.33L853.21 131.03L855.43 131.73L857.66 132.42L859.88 133.12L862.1 133.82L864.32 134.52L866.55 135.21L868.77 135.91L870.99 136.61L873.22 137.59L875.44 138.58L877.66 139.57L879.88 140.67L882.11 141.78L884.33 142.82" fill="none" stroke="#800080" stroke-width="1.099" stroke-linejoin="round" stroke-linecap="square"/>
</g>
<g clip-path="url(#c2)">
<path d="M220.5 472.5V357.5M331.5 472.5V357.5M442.5 472.5V357.5M553.5 472.5V357.5M664.5 472.5V357.5M775.5 472.5V357.5M887.5 472.5V357.5M184.5 436.5H920.5M184.5 395.5H920.5" fill="none" stroke="#b0b0b0" stroke-width="1.111" stroke-dasharray="7.111 1.778 1.111 1.778"/>
<path d="M219.5 419.5H221.5V480.5H219.5ZM221.5 419.5H223.5V480.5H221.5ZM223.5 419.5H225.5V480.5H223.5ZM225.5 419.5H227.5V480.5H225.5ZM228.5 419.5H229.5V480.5H228.5Z" fill="#008000" stroke="#1f77b4" stroke-width="0.903"/>
<path d="M230.5 408.5H232.5V480.5H230.5ZM232.5 408.5H234.5V480.5H232.5ZM234.5 408.5H236.5V480.5H234.5ZM237.5 408.5H238.5V480.5H237.5ZM239.5 408.5H241.5V480.5H239.5ZM241.5 408.5H243.5V480.5H241.5ZM243.5 408.5H245.5V480.5H243.5ZM245.5 408.5H247.5V480.5H245.5ZM248.5 408.5H249.5V480.5H248.5ZM250.5 408.5H252.5V480.5H250.5ZM252.5 408.5H254.5V480.5H252.5ZM254.5 408.5H256.5V480.5H254.5ZM257.5 408.5H258.5V480.5H257.5ZM259.5 408.5H261.5V480.5H259.5ZM261.5 408.5H263.5V480.5H261.5ZM263.5 408.5H265.5V480.5H263.5ZM265.5 408.5H267.5V480.5H265.5ZM268.5 408.5H269.5V480.5H268.5ZM270.5 408.5H272.5V480.5H270.5ZM272.5 408.5H274.5V480.5H272.5ZM274.5 408.5H276.5V480.5H274.5ZM277.5 408.5H278.5V480.5H277.5Z" fill="#008000" stroke="#1f77b4" stroke-width="0.903"/>
<path d="M279.5 367.5H281.5V480.5H279.5ZM281.5 367.5H283.5V480.5H281.5ZM283.5 367.5H285.5V480.5H283.5ZM285.5 367.5H287.5V480.5H285.5ZM288.5 367.5H289.5V480.5H288.5ZM290.5 367.5H292.5V480.5H290.5ZM292.5 367.5H294.5V480.5H292.5ZM294.5 367.5H296.5V480.5H294.5ZM297.5 367.5H298.5V480.5H297.5ZM299.5 367.5H301.5V480.5H299.5ZM301.5 367.5H303.5V480.5H301.5ZM303.5 367.5H305.5V480.5H303.5ZM305.5 367.5H307.5V480.5H305.5ZM308.5 367.5H310.5V480.5H308.5ZM310.5 367.5H312.5V480.5H310.5ZM312.5 367.5H314.5V480.5H312.5ZM314.5 367.5H316.5V480.5H314.5ZM317.5 367.5H318.5V480.5H317.5ZM319.5 367.5H321.5V480.5H319.5ZM321.5 367.5H323.5V480.5H321.5ZM323.5 367.5H325.5V480.5H323.5Z" fill="#008000" stroke="#1f77b4" stroke-width="0.903"/>
<path d="M325.5 408.5H327.5V480.5H325.5ZM328.5 408.5H330.5V480.5H328.5ZM330.5 408.5H332.5V480.5H330.5ZM332.5 408.5H334.5V480.5H332.5ZM334.5 408.5H336.5V480.5H334.5ZM337.5 408.5H338.5V480.5H337.5ZM339.5 408.5H341.5V480.5H339.5ZM341.5 408.5H343.5V480.5H341.5ZM343.5 408.5H345.5V480.5H343.5ZM345.5 408.5H347.5V480.5H345.5ZM348.5 408.5H350.5V480.5H348.5ZM350.5 408.5H352.5V480.5H350.5ZM352.5 408.5H354.5V480.5H352.5ZM354.5 408.5H356.5V480.5H354.5ZM357.5 408.5H358.5V480.5H357.5ZM359.5 408.5H361.5V480.5H359.5ZM361.5 408.5H363.5V480.5H361.5ZM363.5 408.5H365.5V480.5H363.5ZM365.5 408.5H367.5V480.5H365.5ZM368.5 408.5H370.5V480.5H368.5ZM370.5 408.5H372.5V480.5H370.5Z" fill="#ff0000" stroke="#1f77b4" stroke-width="0.903"/>
<path d="M372.5 442.5H374.5V480.5H372.5ZM374.5 442.5H376.5V480.5H374.5ZM377.5 442.5H378.5V480.5H377.5ZM379.5 442.5H381.5V480.5H379.5ZM381.5 442.5H383.5V480.5H381.5ZM383.5 442.5H385.5V480.5H383.5ZM385.5 442.5H387.5V480.5H385.5ZM388.5 442.5H390.5V480.5H388.5ZM390.5 442.5H392.5V480.5H390.5ZM392.5 442.5H394.5V480.5H392.5ZM394.5 442.5H396.5V480.5H394.5ZM397.5 442.5H398.5V480.5H397.5ZM399.5 442.5H401.5V480.5H399.5ZM401.5 442.5H403.5V480.5H401.5ZM403.5 442.5H405.5V480.5H403.5ZM405.5 442.5H407.5V480.5H405.5ZM408.5 442.5H410.5V480.5H408.5ZM410.5 442.5H412.5V480.5H410.5ZM412.5 442.5H414.5V480.5H412.5ZM414.5 442.5H416.5V480.5H414.5ZM417.5 442.5H418.5V480.5H417.5Z" fill="#ff0000" stroke="#1f77b4" stroke-width="0.903"/>
<path d="M419.5 417.5H421.5V480.5H419.5ZM421.5 417.5H423.5V480.5H421.5ZM423.5 417.5H425.5V480.5H423.5ZM425.5 417.5H427.5V480.5H425.5ZM428.5 417.5H430.5V480.5H428.5ZM430.5 417.5H432.5V480.5H430.5ZM432.5 417.5H434.5V480.5H432.5ZM434.5 417.5H436.5V480.5H434.5ZM437.5 417.5H438.5V480.5H437.5ZM439.5 417.5H441.5V480.5H439.5ZM441.5 417.5H443.5V480.5H441.5ZM443.5 417.5H445.5V480.5H443.5ZM445.5 417.5H447.5V480.5H445.5ZM448.5 417.5H450.5V480.5H448.5ZM450.5 417.5H452.5V480.5H450.5ZM452.5 417.5H454.5V480.5H452.5ZM454.5 417.5H456.5V480.5H454.5ZM457.5 417.5H458.5V480.5H457.5ZM459.5 417.5H461.5V480.5H459.5ZM461.5 417.5H463.5V480.5H461.5Z" fill="#ff0000" stroke="#1f77b4" stroke-width="0.903"/>
<path d="M463.5 430.5H465.5V480.5H463.5ZM466.5 430.5H467.5V480.5H466.5ZM468.5 430.5H470.5V480.5H468.5ZM470.5 430.5H472.5V480.5H470.5ZM472.5 430.5H474.5V480.5H472.5ZM474.5 430.5H476.5V480.5H474.5ZM477.5 430.5H478.5V480.5H477.5ZM479.5 430.5H481.5V480.5H479.5ZM481.5 430.5H483.5V480.5H481.5ZM483.5 430.5H485.5V480.5H483.5ZM486.5 430.5H487.5V480.5H486.5ZM488.5 430.5H490.5V480.5H488.5ZM490.5 430.5H492.5V480.5H490.5ZM492.5 430.5H494.5V480.5H492.5ZM494.5 430.5H496.5V480.5H494.5ZM497.5 430.5H498.5V480.5H497.5ZM499.5 430.5H501.5V480.5H499.5ZM501.5 430.5H503.5V480.5H501.5ZM503.5 430.5H505.5V480.5H503.5Z" fill="#008000" stroke="#1f77b4" stroke-width="0.903"/>
<path d="M506.5 422.5H507.5V480.5H506.5ZM508.5 422.5H510.5V480.5H508.5ZM510.5 422.5H512.5V480.5H510.5ZM512.5 422.5H514.5V480.5H512.5ZM514.5 422.5H516.5V480.5H514.5ZM517.5 422.5H518.5V480.5H517.5ZM519.5 422.5H521.5V480.5H519.5ZM521.5 422.5H523.5V480.5H521.5ZM523.5 422.5H525.5V480.5H523.5ZM526.5 422.5H527.5V480.5H526.5ZM528.5 422.5H530.5V480.5H528.5ZM530.5 422.5H532.5V480.5H530.5ZM532.5 422.5H534.5V480.5H532.5ZM534.5 422.5H536.5V480.5H534.5ZM537.5 422.5H538.5V480.5H537.5ZM539.5 422.5H541.5V480.5H539.5ZM541.5 422.5H543.5V480.5H541.5ZM543.5 422.5H545.5V480.5H543.5Z" fill="#008000" stroke="#1f77b4" stroke-width="0.903"/>
<path d="M546.5 411.5H547.5V480.5H546.5ZM548.5 411.5H550.5V480.5H548.5ZM550.5 411.5H552.5V480.5H550.5ZM552.5 411.5H554.5V480.5H552.5ZM554.5 411.5H556.5V480.5H554.5ZM557.5 411.5H558.5V480.5H557.5ZM559.5 411.5H561.5V480.5H559.5ZM561.5 411.5H563.5V480.5H561.5ZM563.5 411.5H565.5V480.5H563.5ZM566.5 411.5H567.5V480.5H566.5ZM568.5 411.5H570.5V480.5H568.5ZM570.5 411.5H572.5V480.5H570.5ZM572.5 411.5H574.5V480.5H572.5ZM574.5 411.5H576.5V480.5H574.5ZM577.5 411.5H578.5V480.5H577.5ZM579.5 411.5H581.5V480.5H579.5ZM581.5 411.5H583.5V480.5H581.5Z" fill="#008000" stroke="#1f77b4" stroke-width="0.903"/>
<path d="M583.5 432.5H585.5V480.5H583.5ZM586.5 432.5H587.5V480.5H586.5ZM588.5 432.5H590.5V480.5H588.5ZM590.5 432.5H592.5V480.5H590.5ZM592.5 432.5H594.5V480.5H592.5ZM594.5 432.5H596.5V480.5H594.5ZM597.5 432.5H598.5V480.5H597.5ZM599.5 432.5H601.5V480.5H599.5ZM601.5 432.5H603.5V480.5H601.5ZM603.5 432.5H605.5V480.5H603.5ZM606.5 432.5H607.5V480.5H606.5ZM608.5 432.5H610.5V480.5H608.5ZM610.5 432.5H612.5V480.5H610.5ZM612.5 432.5H614.5V480.5H612.5ZM614.5 432.5H616.5V480.5H614.5ZM617.5 432.5H618.5V480.5H617.5Z" fill="#008000" stroke="#1f77b4" stroke-width="0.903"/>
<path d="M619.5 440.5H621.5V480.5H619.5ZM621.5 440.5H623.5V480.5H621.5ZM623.5 440.5H625.5V480.5H623.5ZM626.5 440.5H627.5V480.5H626.5ZM628.5 440.5H630.5V480.5H628.5ZM630.5 440.5H632.5V480.5H630.5ZM632.5 440.5H634.5V480.5H632.5ZM634.5 440.5H636.5V480.5H634.5ZM637.5 440.5H639.5V480.5H637.5ZM639.5 440.5H641.5V480.5H639.5ZM641.5 440.5H643.5V480.5H641.5ZM643.5 440.5H645.5V480.5H643.5ZM646.5 440.5H647.5V480.5H646.5ZM648.5 440.5H650.5V480.5H648.5ZM650.5 440.5H652.5V480.5H650.5Z" fill="#008000" stroke="#1f77b4" stroke-width="0.903"/>
<path d="M652.5 422.5H654.5V480.5H652.5ZM654.5 422.5H656.5V480.5H654.5ZM657.5 422.5H659.5V480.5H657.5ZM659.5 422.5H661.5V480.5H659.5ZM661.5 422.5H663.5V480.5H661.5ZM663.5 422.5H665.5V480.5H663.5ZM666.5 422.5H667.5V480.5H666.5ZM668.5 422.5H670.5V480.5H668.5ZM670.5 422.5H672.5V480.5H670.5ZM672.5 422.5H674.5V480.5H672.5ZM674.5 422.5H676.5V480.5H674.5ZM677.5 422.5H679.5V480.5H677.5ZM679.5 422.5H681.5V480.5H679.5ZM681.5 422.5H683.5V480.5H681.5Z" fill="#ff0000" stroke="#1f77b4" stroke-width="0.903"/>
<path d="M683.5 420.5H685.5V480.5H683.5ZM686.5 420.5H687.5V480.5H686.5ZM688.5 420.5H690.5V480.5H688.5ZM690.5 420.5H692.5V480.5H690.5ZM692.5 420.5H694.5V480.5H692.5ZM694.5 420.5H696.5V480.5H694.5ZM697.5 420.5H699.5V480.5H697.5ZM699.5 420.5H701.5V480.5H699.5ZM701.5 420.5H703.5V480.5H701.5ZM703.5 420.5H705.5V480.5H703.5ZM706.5 420.5H707.5V480.5H706.5ZM708.5 420.5H710.5V480.5H708.5ZM710.5 420.5H712.5V480.5H710.5Z" fill="#008000" stroke="#1f77b4" stroke-width="0.903"/>
<path d="M712.5 397.5H714.5V480.5H712.5ZM714.5 397.5H716.5V480.5H714.5ZM717.5 397.5H719.5V480.5H717.5ZM719.5 397.5H721.5V480.5H719.5ZM721.5 397.5H723.5V480.5H721.5ZM723.5 397.5H725.5V480.5H723.5ZM726.5 397.5H727.5V480.5H726.5ZM728.5 397.5H730.5V480.5H728.5ZM730.5 397.5H732.5V480.5H730.5ZM732.5 397.5H734.5V480.5H732.5ZM734.5 397.5H736.5V480.5H734.5ZM737.5 397.5H739.5V480.5H737.5Z" fill="#008000" stroke="#1f77b4" stroke-width="0.903"/>
<path d="M739.5 408.5H741.5V480.5H739.5ZM741.5 408.5H743.5V480.5H741.5ZM743.5 408.5H745.5V480.5H743.5ZM746.5 408.5H747.5V480.5H746.5ZM748.5 408.5H750.5V480.5H748.5ZM750.5 408.5H752.5V480.5H750.5ZM752.5 408.5H754.5V480.5H752.5ZM754.5 408.5H756.5V480.5H754.5ZM757.5 408.5H759.5V480.5H757.5ZM759.5 408.5H761.5V480.5H759.5ZM761.5 408.5H763.5V480.5H761.5Z" fill="#ff0000" stroke="#1f77b4" stroke-width="0.903"/>
<path d="M763.5 430.5H765.5V480.5H763.5ZM766.5 430.5H767.5V480.5H766.5ZM768.5 430.5H770.5V480.5H768.5ZM770.5 430.5H772.5V480.5H770.5ZM772.5 430.5H774.5V480.5H772.5ZM774.5 430.5H776.5V480.5H774.5ZM777.5 430.5H779.5V480.5H777.5ZM779.5 430.5H781.5V480.5H779.5ZM781.5 430.5H783.5V480.5H781.5ZM783.5 430.5H785.5V480.5H783.5Z" fill="#008000" stroke="#1f77b4" stroke-width="0.903"/>
<path d="M786.5 384.5H787.5V480.5H786.5ZM788.5 384.5H790.5V480.5H788.5ZM790.5 384.5H792.5V480.5H790.5ZM792.5 384.5H794.5V480.5H792.5ZM794.5 384.5H796.5V480.5H794.5ZM797.5 384.5H799.5V480.5H797.5ZM799.5 384.5H801.5V480.5H799.5ZM801.5 384.5H803.5V480.5H801.5ZM803.5 384.5H805.5V480.5H803.5Z" fill="#ff0000" stroke="#1f77b4" stroke-width="0.903"/>
<path d="M806.5 437.5H807.5V480.5H806.5ZM808.5 437.5H810.5V480.5H808.5ZM810.5 437.5H812.5V480.5H810.5ZM812.5 437.5H814.5V480.5H812.5ZM815.5 437.5H816.5V480.5H815.5ZM817.5 437.5H819.5V480.5H817.5ZM819.5 437.5H821.5V480.5H819.5ZM821.5 437.5H823.5V480.5H821.5Z" fill="#ff0000" stroke="#1f77b4" stroke-width="0.903"/>
<path d="M823.5 434.5H825.5V480.5H823.5ZM826.5 434.5H827.5V480.5H826.5ZM828.5 434.5H830.5V480.5H828.5ZM830.5 434.5H832.5V480.5H830.5ZM832.5 434.5H834.5V480.5H832.5ZM835.5 434.5H836.5V480.5H835.5ZM837.5 434.5H839.5V480.5H837.5Z" fill="#008000" stroke="#1f77b4" stroke-width="0.903"/>
<path d="M839.5 439.5H841.5V480.5H839.5ZM841.5 439.5H843.5V480.5H841.5ZM843.5 439.5H845.5V480.5H843.5ZM846.5 439.5H847.5V480.5H846.5ZM848.5 439.5H850.5V480.5H848.5ZM850.5 439.5H852.5V480.5H850.5Z" fill="#ff0000" stroke="#1f77b4" stroke-width="0.903"/>
<path d="M852.5 447.5H854.5V480.5H852.5ZM855.5 447.5H856.5V480.5H855.5ZM857.5 447.5H859.5V480.5H857.5ZM859.5 447.5H861.5V480.5H859.5ZM861.5 447.5H863.5V480.5H861.5Z" fill="#ff0000" stroke="#1f77b4" stroke-width="0.903"/>
<path d="M863.5 437.5H865.5V480.5H863.5ZM866.5 437.5H867.5V480.5H866.5ZM868.5 437.5H870.5V480.5H868.5ZM870.5 437.5H872.5V480.5H870.5Z" fill="#008000" stroke="#1f77b4" stroke-width="0.903"/>
<path d="M872.5 445.5H874.5V480.5H872.5ZM875.5 445.5H876.5V480.5H875.5ZM877.5 445.5H879.5V480.5H877.5Z" fill="#ff0000" stroke="#1f77b4" stroke-width="0.903"/>
<path d="M879.5 449.5H881.5V480.5H879.5ZM881.5 449.5H883.5V480.5H881.5Z" fill="#ff0000" stroke="#1f77b4" stroke-width="0.903"/>
<path d="M883.5 459.5H885.5V480.5H883.5Z" fill="#008000" stroke="#1f77b4" stroke-width="0.903"/>
</g>
<path d="M184.5 69.5H920.5V357.5H184.5ZM184.5 357.5H920.5V472.5H184.5Z" fill="none" stroke="#000" stroke-width="1.111" stroke-linejoin="miter" stroke-linecap="square"/>
<path d="M184.5 354.5h-4.86M184.5 312.5h-4.86M184.5 270.5h-4.86M184.5 228.5h-4.86M184.5 187.5h-4.86M184.5 145.5h-4.86M184.5 103.5h-4.86M184.5 436.5h-4.86M184.5 395.5h-4.86M220.5 472.5v4.86M331.5 472.5v4.86M442.5 472.5v4.86M553.5 472.5v4.86M664.5 472.5v4.86M775.5 472.5v4.86M887.5 472.5v4.86" fill="none" stroke="#000" stroke-width="1.111"/>
<g font-size="13.4px" fill="#000" text-anchor="end">
<text x="173.54" y="359.07">52340</text>
<text x="172.49" y="318.07">52360</text>
<text x="172.49" y="276.07">52380</text>
<text x="173.54" y="234.07">52400</text>
<text x="173.54" y="192.08">52420</text>
<text x="173.54" y="150.07">52440</text>
<text x="172.49" y="108.07">52460</text>
<text x="173.09" y="441.95">500</text>
<text x="173.64" y="400.95">1000</text>
</g>
<g font-size="13.4px" fill="#000" text-anchor="middle">
<text transform="translate(218.27 500.60) rotate(-45)" x="0" y="5.1">17:45</text>
<text transform="translate(329.42 500.60) rotate(-45)" x="0" y="5.1">17:54</text>
<text transform="translate(440.56 500.60) rotate(-45)" x="0" y="5.1">18:00</text>
<text transform="translate(551.71 500.60) rotate(-45)" x="0" y="5.1">18:09</text>
<text transform="translate(662.86 500.60) rotate(-45)" x="0" y="5.1">18:18</text>
<text transform="translate(774.01 500.60) rotate(-45)" x="0" y="5.1">18:30</text>
<text transform="translate(122 215.85) rotate(-90)">Price</text>
<text transform="translate(130 415.80) rotate(-90)" letter-spacing="0.31">V<tspan dx="-0.7">olume</tspan></text>
</g>
<text x="511" y="15.6" font-size="16.8px" letter-spacing="-0.105" text-anchor="middle" fill="#000">N225MC 12-Minute Chart (2025-11-03 17:00~18:00) - MA on HLC/3</text>
</svg>
</body></html>
